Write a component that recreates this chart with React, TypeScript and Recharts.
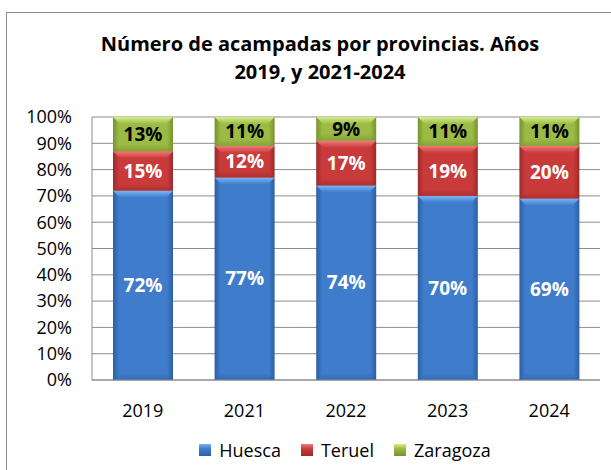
import React from 'react';
import { BarChart, Bar, XAxis, YAxis, CartesianGrid, LabelList } from 'recharts';

const years = ['2019', '2021', '2022', '2023', '2024'];
const huesca = [72, 77, 74, 70, 69];
const teruel = [15, 12, 17, 19, 20];
const zaragoza = [13, 11, 9, 11, 11];
const yTicks = [0, 10, 20, 30, 40, 50, 60, 70, 80, 90, 100];

const FONT = '"Open Sans", "DejaVu Sans", sans-serif';

const series = [
  { key: 'Huesca', id: 'hu', main: '#3f7ccc', light: '#7ab6f5', dark: '#2c5fa3', label: '#ffffff' },
  { key: 'Teruel', id: 'te', main: '#c93b3b', light: '#f27a7a', dark: '#9c2a2a', label: '#ffffff' },
  { key: 'Zaragoza', id: 'za', main: '#9bbb44', light: '#d6f08a', dark: '#77922f', label: '#000000' },
];

const data = years.map((year, i) => ({
  year,
  Huesca: huesca[i],
  Teruel: teruel[i],
  Zaragoza: zaragoza[i],
}));

const BevelBar = (props: any) => {
  const { x, y, width, height, sid } = props;
  if (!height || height <= 0) return null;
  const e = Math.min(7, height / 3);
  return (
    <g>
      <rect x={x} y={y} width={width} height={height} fill={`url(#side-${sid})`} />
      <polygon
        points={`${x},${y} ${x + width},${y} ${x + width - e},${y + e} ${x + e},${y + e}`}
        fill={`url(#top-${sid})`}
      />
      <polygon
        points={`${x},${y + height} ${x + width},${y + height} ${x + width - e},${y + height - e} ${x + e},${y + height - e}`}
        fill={`url(#bot-${sid})`}
        opacity={0.6}
      />
    </g>
  );
};

const ChartLegend = () => (
  <div
    style={{
      position: 'absolute',
      top: 437,
      left: 0,
      width: 690,
      display: 'flex',
      justifyContent: 'center',
      fontFamily: FONT,
      fontSize: 18,
      lineHeight: '26px',
      color: '#000',
    }}
  >
    {series.map((s) => (
      <span key={s.key} style={{ display: 'flex', alignItems: 'center', margin: '0 10px' }}>
        <span
          style={{
            display: 'inline-block',
            width: 12,
            height: 12,
            marginRight: 8,
            background: `linear-gradient(${s.light}, ${s.main} 40%, ${s.dark})`,
          }}
        />
        {s.key}
      </span>
    ))}
  </div>
);

export default function App() {
  return (
    <div style={{ position: 'fixed', left: 0, top: 0, width: 611, height: 470, overflow: 'hidden', background: '#fff' }}>
      <div
        style={{
          position: 'absolute',
          left: 6,
          top: 12,
          width: 640,
          height: 500,
          border: '1px solid #8c8c8c',
        }}
      />
      <div
        style={{
          position: 'absolute',
          top: 30,
          left: 0,
          width: 640,
          textAlign: 'center',
          fontFamily: FONT,
          fontWeight: 'bold',
          fontSize: 20,
          lineHeight: '28px',
          color: '#000',
        }}
      >
        Número de acampadas por provincias. Años
        <br />
        2019, y 2021-2024
      </div>
      <div style={{ position: 'absolute', left: 0, top: 0 }}>
        <BarChart
          width={611}
          height={470}
          data={data}
          margin={{ top: 117, right: 11, left: 0, bottom: 60 }}
          barSize={60}
        >
          <defs>
            {series.map((s) => (
              <React.Fragment key={s.id}>
                <linearGradient id={`side-${s.id}`} x1="0" y1="0" x2="1" y2="0">
                  <stop offset="0%" stopColor={s.dark} />
                  <stop offset="10%" stopColor={s.main} />
                  <stop offset="90%" stopColor={s.main} />
                  <stop offset="100%" stopColor={s.dark} />
                </linearGradient>
                <linearGradient id={`top-${s.id}`} x1="0" y1="0" x2="0" y2="1">
                  <stop offset="0%" stopColor={s.light} />
                  <stop offset="100%" stopColor={s.main} />
                </linearGradient>
                <linearGradient id={`bot-${s.id}`} x1="0" y1="0" x2="0" y2="1">
                  <stop offset="0%" stopColor={s.main} />
                  <stop offset="100%" stopColor={s.dark} />
                </linearGradient>
              </React.Fragment>
            ))}
          </defs>
          <CartesianGrid vertical={false} stroke="#8c8c8c" />
          <XAxis
            dataKey="year"
            height={30}
            tickLine={false}
            axisLine={{ stroke: '#8c8c8c' }}
            tickMargin={18}
            tick={{ fill: '#000', fontSize: 18, fontFamily: FONT }}
          />
          <YAxis
            width={92}
            domain={[0, 100]}
            ticks={yTicks}
            interval={0}
            tickFormatter={(v: number) => `${v}%`}
            tickLine={false}
            axisLine={{ stroke: '#8c8c8c' }}
            tickMargin={14}
            tick={{ fill: '#000', fontSize: 18, fontFamily: FONT }}
          />
          {series.map((s) => (
            <Bar
              key={s.key}
              dataKey={s.key}
              stackId="a"
              fill={s.main}
              isAnimationActive={false}
              shape={(p: any) => <BevelBar {...p} sid={s.id} />}
            >
              <LabelList
                dataKey={s.key}
                position="center"
                formatter={(v: any) => `${v}%`}
                fill={s.label}
                style={{ fontFamily: FONT, fontWeight: 'bold', fontSize: 19 }}
              />
            </Bar>
          ))}
        </BarChart>
      </div>
      <ChartLegend />
    </div>
  );
}
